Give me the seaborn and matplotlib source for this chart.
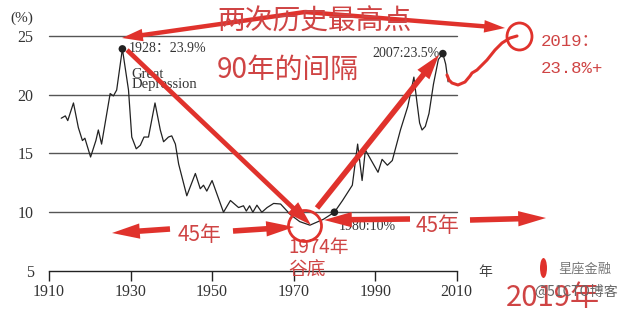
import matplotlib
matplotlib.use("Agg")
import matplotlib.pyplot as plt
import seaborn as sns
import pandas as pd
from matplotlib.patches import Ellipse
from matplotlib.lines import Line2D

# ---- data ----
years = [1913, 1914, 1914.6, 1916, 1917.2, 1918.2, 1918.8, 1920.2, 1921.5, 1922.1,
         1922.9, 1925, 1925.8, 1926.6, 1928, 1929.5, 1930.3, 1931.4, 1932.4, 1933.3,
         1934.4, 1936, 1937.3, 1938.1, 1939.3, 1940.1, 1941, 1941.8, 1943.8, 1945.9,
         1947.1, 1947.9, 1948.7, 1950, 1952.8, 1954.5, 1956.5, 1957.7, 1958.4, 1959.2,
         1960, 1961, 1962.2, 1963.5, 1965.1, 1966.8, 1969.2, 1971.5, 1974, 1977.3,
         1980, 1982, 1984.4, 1985.7, 1986.8, 1987.6, 1988.9, 1990.7, 1991.7, 1993,
         1994.2, 1996.2, 1998, 1999.5, 2000.2, 2000.9, 2001.5, 2002.3, 2003.2, 2004.3,
         2005.5, 2006.6, 2007.3, 2007.9]
share = [18.0, 18.2, 17.8, 19.3, 17.2, 16.1, 16.3, 14.7, 16.1, 17.0,
         15.8, 20.1, 19.9, 20.4, 23.9, 20.4, 16.4, 15.4, 15.7, 16.4,
         16.4, 19.3, 17.0, 16.0, 16.4, 16.5, 15.8, 14.1, 11.4, 13.3,
         12.0, 12.3, 11.8, 12.7, 10.0, 11.0, 10.4, 10.55, 10.1, 10.55,
         10.0, 10.6, 10.0, 10.4, 10.75, 10.7, 9.8, 9.2, 8.9, 9.4,
         10.0, 11.0, 12.3, 15.8, 12.7, 15.3, 14.5, 13.4, 14.5, 14.0,
         14.4, 17.0, 19.0, 21.5, 19.5, 17.6, 17.0, 17.3, 18.4, 20.9,
         23.0, 23.5, 22.6, 21.1]
peak_years = [1928, 1980, 2006.6]
peak_vals = [23.9, 10.0, 23.5]
peak_labels = ["1928：23.9%", "1980:10%", "2007:23.5%"]
x_ticks = [1910, 1930, 1950, 1970, 1990, 2010]
y_ticks = [5, 10, 15, 20, 25]

df = pd.DataFrame({"year": years, "share": share})
pk = pd.DataFrame({"year": peak_years, "share": peak_vals})

sns.set_theme(style="white")
plt.rcParams["font.family"] = ["Liberation Serif", "Noto Sans CJK SC"]

W, H = 641, 309
fig = plt.figure(figsize=(W / 100, H / 100), dpi=100)
ax = fig.add_axes([49 / W, 1 - 271 / H, (456.7 - 49) / W, (271 - 34.8) / H])

for v in [10, 15, 20, 25]:
    ax.axhline(v, color="#555555", lw=1.0, zorder=1, clip_on=False)

sns.lineplot(data=df, x="year", y="share", ax=ax, color="#222222", lw=0.9,
             estimator=None, sort=False, zorder=3)
sns.scatterplot(data=pk, x="year", y="share", ax=ax, color="#222222", s=30,
                edgecolor="none", zorder=4)

ax.set_xlim(1910, 2010)
ax.set_ylim(5, 25.1)
ax.set_xticks(x_ticks)
ax.set_yticks(y_ticks)
ax.set_xticklabels([str(t) for t in x_ticks])
ax.set_yticklabels([str(t) for t in y_ticks])
ax.set_xlabel("")
ax.set_ylabel("")
for s in ["top", "right", "left"]:
    ax.spines[s].set_visible(False)
ax.spines["bottom"].set_color("#222222")
ax.spines["bottom"].set_linewidth(1.0)
ax.tick_params(axis="x", direction="out", length=7, width=1, color="#222222",
               labelsize=11.5, labelcolor="#333333", pad=2, bottom=True)
ax.tick_params(axis="y", length=0, labelsize=11.5, labelcolor="#333333", pad=11)
ax.patch.set_alpha(0)

# black labels
ax.text(1929.5, 23.9, peak_labels[0], fontsize=10, color="#333333", va="center",
        family=["Liberation Serif", "Noto Sans CJK SC"])
ax.text(1930.2, 21.75, "Great", fontsize=10.5, color="#333333", va="center")
ax.text(1930.2, 20.85, "Depression", fontsize=10.5, color="#333333", va="center")
ax.text(2005.7, 23.55, peak_labels[2], fontsize=10, color="#333333", va="center", ha="right")
ax.text(1981.0, 8.75, peak_labels[1], fontsize=10, color="#333333", va="center")
fig.text(10 / W, 1 - 18 / H, "(%)", fontsize=11, color="#333333", va="center")
fig.text(478 / W, 1 - 272 / H, "年", fontsize=10, color="#444444", va="center",
         family=["Noto Sans CJK SC"])

RED = "#e0322c"
TXT = "#cf4444"


def F(x, y):
    return (x / W, 1 - y / H)


def arrow(x0, y0, x1, y1, hw=0.45, hl=0.75, tw=0.16, ms=20):
    ax.annotate("", xy=F(x1, y1), xytext=F(x0, y0), xycoords="figure fraction",
                textcoords="figure fraction", annotation_clip=False,
                arrowprops=dict(arrowstyle=f"simple,head_length={hl},head_width={hw},tail_width={tw}",
                                color=RED, lw=0, shrinkA=0, shrinkB=0, mutation_scale=ms),
                zorder=6)


# top double arrow
arrow(305, 12, 122, 38)
arrow(305, 12, 505, 28)
# diagonal down to 1974
arrow(127, 50, 311, 225, hw=0.55, hl=0.9, tw=0.17)
# up to 2007
arrow(317, 208, 439, 55, hw=0.55, hl=0.9, tw=0.2)
# 45-year arrows (left)
arrow(170, 229, 112, 233, hw=0.55, hl=1.0, tw=0.2)
arrow(233, 231, 294, 227, hw=0.55, hl=1.0, tw=0.2)
# 45-year arrows (right)
arrow(410, 219, 324, 220, hw=0.55, hl=1.0, tw=0.2)
arrow(470, 220, 546, 218, hw=0.55, hl=1.0, tw=0.2)

# circles
fig.add_artist(Ellipse(F(305, 226), 33 / W, 31 / H, transform=fig.transFigure,
                       fill=False, ec=RED, lw=2.0, zorder=7))
fig.add_artist(Ellipse(F(519.5, 36.5), 25 / W, 27 / H, transform=fig.transFigure,
                       fill=False, ec=RED, lw=2.0, zorder=7))
# hand-drawn squiggle
sq_x = [447, 449, 452, 458, 465, 470, 472, 477, 482, 487, 495, 502, 510, 517]
sq_y = [75, 80, 83, 85, 82, 76, 73, 70, 65, 60, 50, 43, 38, 36]
fig.add_artist(Line2D([x / W for x in sq_x], [1 - y / H for y in sq_y],
                      transform=fig.transFigure, color=RED, lw=2.2, zorder=7,
                      solid_capstyle="round", solid_joinstyle="round"))
# teardrop mark
fig.add_artist(Ellipse(F(543.5, 268), 7 / W, 20 / H, transform=fig.transFigure,
                       fc=RED, ec="none", zorder=7))

# red texts
cjk = ["Noto Sans CJK SC", "DejaVu Sans"]
fig.text(217 / W, 1 - 22 / H, "两次历史最高点", fontsize=20, color=TXT, va="center",
         family=cjk, weight="light", zorder=5)
fig.text(217 / W, 1 - 70 / H, "90年的间隔", fontsize=20, color=TXT, va="center",
         family=cjk, weight="light", zorder=5)
fig.text(178 / W, 1 - 235 / H, "45年", fontsize=15, color=TXT, va="center", family=cjk,
         weight="light")
fig.text(416 / W, 1 - 226 / H, "45年", fontsize=15, color=TXT, va="center", family=cjk,
         weight="light")
fig.text(288 / W, 1 - 248 / H, "1974年", fontsize=13.5, color=TXT, va="center", family=cjk,
         weight="light")
fig.text(288 / W, 1 - 270 / H, "谷底", fontsize=13.5, color=TXT, va="center", family=cjk,
         weight="light")
mono = ["Liberation Mono", "Noto Sans CJK SC"]
fig.text(541 / W, 1 - 42 / H, "2019：", fontsize=12.5, color=TXT, va="center", family=mono)
fig.text(541 / W, 1 - 68 / H, "23.8%+", fontsize=12.5, color=TXT, va="center", family=mono)
fig.text(506 / W, 1 - 283 / H, "2019年", fontsize=21, color=TXT, va="top", family=cjk,
         weight="light")

# watermark
fig.text(558 / W, 1 - 269 / H, "星座金融", fontsize=9.5, color="#777777", va="center",
         family=cjk, zorder=8)
fig.text(534 / W, 1 - 292 / H, "@51CTO博客", fontsize=10, color="#666666", va="center",
         family=cjk, zorder=8)

fig.savefig("out.png", dpi=100, facecolor="white")
